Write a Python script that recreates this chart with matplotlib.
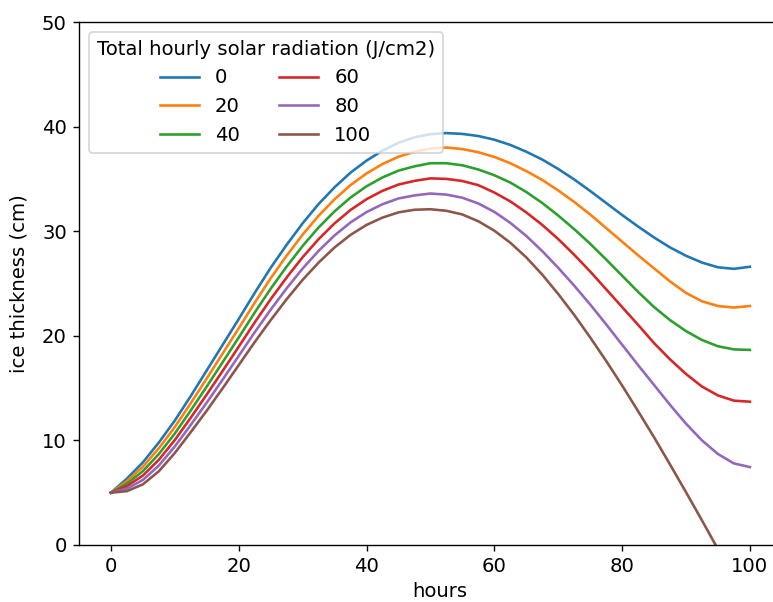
import matplotlib
matplotlib.use("Agg")
import matplotlib.pyplot as plt

plt.rcParams["font.size"] = 11.3

hours = [0, 2.5, 5, 7.5, 10, 12.5, 15, 17.5, 20, 22.5, 25, 27.5, 30, 32.5, 35,
         37.5, 40, 42.5, 45, 47.5, 50, 52.5, 55, 57.5, 60, 62.5, 65, 67.5, 70,
         72.5, 75, 77.5, 80, 82.5, 85, 87.5, 90, 92.5, 95, 97.5, 100]

# ice thickness (cm) for each total hourly solar radiation (J/cm2)
rad_0 = [5.0, 6.35, 7.9, 9.8, 11.9, 14.25, 16.7, 19.15, 21.6, 24.1, 26.5,
         28.7, 30.75, 32.6, 34.2, 35.6, 36.75, 37.7, 38.45, 38.98, 39.28,
         39.38, 39.3, 39.1, 38.75, 38.25, 37.6, 36.85, 35.95, 34.95, 33.85,
         32.7, 31.55, 30.45, 29.4, 28.45, 27.65, 27.0, 26.55, 26.4, 26.6]
rad_20 = [5.0, 6.11, 7.48, 9.25, 11.28, 13.56, 15.93, 18.32, 20.72, 23.16, 25.5,
          27.66, 29.67, 31.48, 33.05, 34.41, 35.52, 36.42, 37.12, 37.59, 37.9,
          38.0, 37.85, 37.55, 37.1, 36.5, 35.75, 34.9, 33.9, 32.8, 31.6,
          30.3, 29.0, 27.7, 26.45, 25.2, 24.1, 23.3, 22.85, 22.7, 22.85]
rad_40 = [5.0, 5.87, 7.06, 8.7, 10.66, 12.87, 15.16, 17.49, 19.84, 22.22, 24.5,
          26.62, 28.59, 30.36, 31.9, 33.22, 34.29, 35.14, 35.79, 36.2, 36.5,
          36.5, 36.3, 35.9, 35.35, 34.65, 33.75, 32.7, 31.5, 30.2, 28.8,
          27.3, 25.75, 24.2, 22.75, 21.5, 20.45, 19.6, 19.0, 18.7, 18.65]
rad_60 = [5.0, 5.63, 6.64, 8.15, 10.04, 12.18, 14.39, 16.66, 18.96, 21.28, 23.5,
          25.58, 27.51, 29.24, 30.75, 32.03, 33.06, 33.86, 34.46, 34.81, 35.05,
          35.0, 34.8, 34.4, 33.7, 32.85, 31.8, 30.6, 29.25, 27.75, 26.15,
          24.45, 22.75, 21.05, 19.3, 17.75, 16.35, 15.15, 14.3, 13.8, 13.7]
rad_80 = [5.0, 5.39, 6.22, 7.6, 9.42, 11.49, 13.62, 15.83, 18.08, 20.34, 22.5,
          24.54, 26.43, 28.12, 29.6, 30.84, 31.83, 32.58, 33.13, 33.42, 33.6,
          33.5, 33.2, 32.65, 31.85, 30.8, 29.55, 28.1, 26.5, 24.8, 23.0,
          21.1, 19.15, 17.2, 15.3, 13.4, 11.6, 10.0, 8.7, 7.8, 7.45]
rad_100 = [5.0, 5.15, 5.8, 7.05, 8.8, 10.8, 12.85, 15.0, 17.2, 19.4, 21.5,
           23.5, 25.35, 27.0, 28.45, 29.65, 30.6, 31.3, 31.8, 32.05, 32.1,
           31.95, 31.6, 30.95, 30.05, 28.9, 27.5, 25.85, 24.0, 22.0, 19.85,
           17.6, 15.25, 12.8, 10.3, 7.7, 5.05, 2.35, -0.4, -3.2, -6.0]

labels = ["0", "20", "40", "60", "80", "100"]
series = [rad_0, rad_20, rad_40, rad_60, rad_80, rad_100]

fig = plt.figure(figsize=(773 / 125, 602 / 125), dpi=125)
ax = fig.add_axes([79 / 773, 57 / 602, 722 / 773, 523 / 602])

for lab, vals in zip(labels, series):
    ax.plot(hours, vals, label=lab, linewidth=1.5)

ax.set_xlim(-5, 108)
ax.set_ylim(0, 50)
ax.set_xticks([0, 20, 40, 60, 80, 100])
ax.set_xlabel("hours", labelpad=3.5)
ax.set_ylabel("ice thickness (cm)", labelpad=8)
ax.legend(title="Total hourly solar radiation (J/cm2)", ncol=2, loc="upper left")

fig.savefig("out.png", dpi=125)
